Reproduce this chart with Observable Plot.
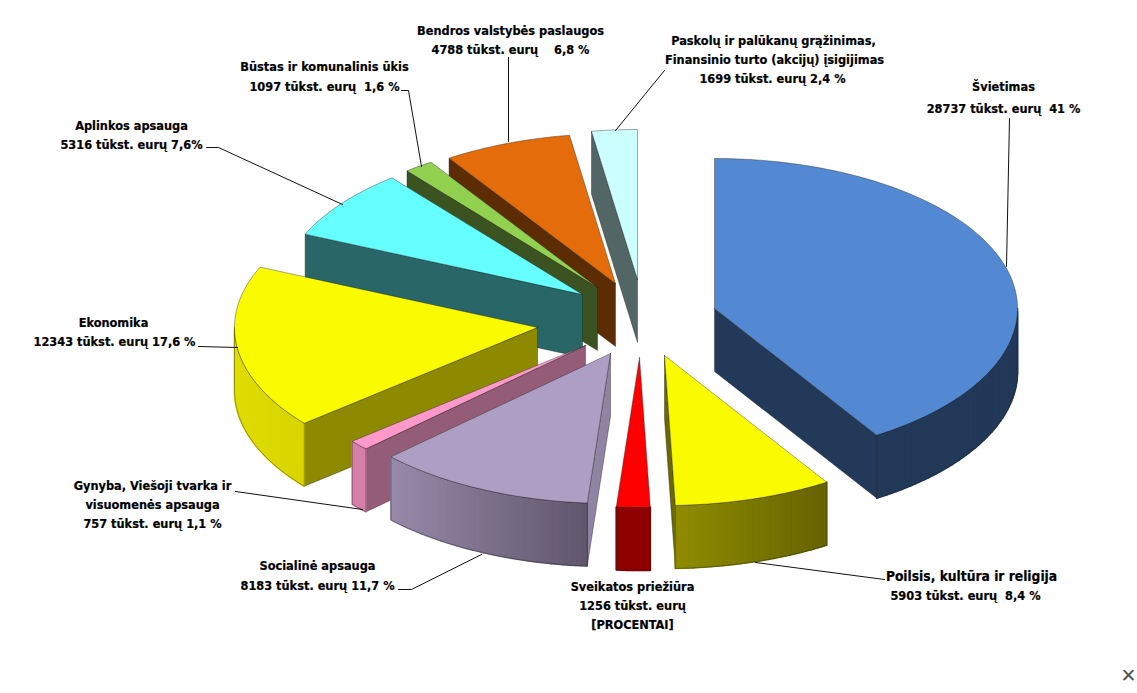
<!DOCTYPE html>
<html><head><meta charset="utf-8">
<script src="https://cdn.jsdelivr.net/npm/d3@7"></script>
<script src="https://cdn.jsdelivr.net/npm/@observablehq/plot@0.6"></script>
<style>html,body{margin:0;padding:0;background:#fff}svg{display:block}</style>
</head><body><div id="chart"></div>
<script>
// Data (thousand euros)
const categories = ["Švietimas","Poilsis, kultūra ir religija","Sveikatos priežiūra","Socialinė apsauga","Gynyba, Viešoji tvarka ir visuomenės apsauga","Ekonomika","Aplinkos apsauga","Būstas ir komunalinis ūkis","Bendros valstybės paslaugos","Paskolų ir palūkanų grąžinimas, Finansinio turto (akcijų) įsigijimas"];
const values = [28737,5903,1256,8183,757,12343,5316,1097,4788,1699];

// Styles
const topColors  = ["#5389d2","#fbfb00","#ff0000","#ad9ec3","#ff99cc","#fbfb00","#66ffff","#92d050","#e46c0a","#ccffff"];
const wallColors = ["#223959","#6b6900","#8e0000","#9084a3","#955c78","#8d8a00","#286668","#3b5320","#5c2c04","#526666"];
const rimLeft    = ["#223959","#8f8c00","#8e0000","#978aa9","#d67fa9","#dfdc00","#286668","#3b5320","#5c2c04","#526666"];
const rimRight   = ["#223959","#666300","#8e0000","#5f566c","#d67fa9","#d8d500","#286668","#3b5320","#5c2c04","#526666"];

// Pie layout: per-slice apex of each exploded slice
const rx = 303, ry = 150, depth = 63;
const apexX = [714,664,639,610,585,537,582,597,615,637];
const apexY = [308,355,357,353,345,327,294,287,283,279];
const drawOrder = [9,8,7,6,5,4,0,1,2,3];

// Label layout
const labels = [
  ["Švietimas",1003,86],["28737 tūkst. eurų  41 %",1003,108],
  ["Poilsis, kultūra ir religija",971,576,13.7],["5903 tūkst. eurų  8,4 %",965,595],
  ["Sveikatos priežiūra",632,586],["1256 tūkst. eurų",632,605],["[PROCENTAI]",632,624],
  ["Socialinė apsauga",317,565],["8183 tūkst. eurų 11,7 %",317,585],
  ["Gynyba, Viešoji tvarka ir",152,485],["visuomenės apsauga",152,504],["757 tūkst. eurų 1,1 %",152,523],
  ["Ekonomika",113,322],["12343 tūkst. eurų 17,6 %",114,341],
  ["Aplinkos apsauga",131,125],["5316 tūkst. eurų 7,6%",131,144],
  ["Būstas ir komunalinis ūkis",324,66],["1097 tūkst. eurų  1,6 %",324,86],
  ["Bendros valstybės paslaugos",510,30],["4788 tūkst. eurų    6,8 %",510,49],
  ["Paskolų ir palūkanų grąžinimas,",773,40],["Finansinio turto (akcijų) įsigijimas",774,59],["1699 tūkst. eurų 2,4 %",772,78]
];
const leaders = [
  [[1009,118],[1006,266]],
  [[755,562],[884,579]],
  [[398,589],[411,589],[481,554]],
  [[235,491],[362,509]],
  [[198,346],[237,347]],
  [[206,147],[218,147],[342,204]],
  [[401,90],[408,90],[421,166]],
  [[508,57],[508,141]],
  [[615,130],[664,70]]
];

// Geometry derived from the values
const total = d3.sum(values);
const cum = d3.cumsum(values);
const startA = values.map((v,i)=> (i? cum[i-1]:0)/total*2*Math.PI);
const endA = values.map((v,i)=> cum[i]/total*2*Math.PI);
const px = (i,a)=> apexX[i]+rx*Math.sin(a);
const py = (i,a)=> apexY[i]-ry*Math.cos(a);

const polys = [];
let pid = 0;
const edge = "rgba(30,30,30,0.65)";
const pushPoly = (pts,fill,stroke,sw=0.6)=>{const id=pid++; [...pts,pts[0]].forEach(([x,y])=>polys.push({id,x,y,fill,stroke,sw}));};

drawOrder.forEach(i=>{
  const a0=startA[i], a1=endA[i];
  const ax=apexX[i], ay=apexY[i];
  const wall = a=>{
    const x=px(i,a), y=py(i,a);
    pushPoly([[ax,ay],[x,y],[x,y+depth],[ax,ay+depth]],wallColors[i],edge);
  };
  if (Math.sin(a0)<0) wall(a0);
  if (Math.sin(a1)>0) wall(a1);
  // outer rim: only the front half faces the viewer
  const r0=Math.max(a0,Math.PI/2), r1=Math.min(a1,3*Math.PI/2);
  if (r1>r0){
    const n=Math.max(2,Math.ceil((r1-r0)/0.02));
    const angles=d3.range(n+1).map(k=>r0+(r1-r0)*k/n);
    const xs=angles.map(a=>px(i,a));
    const xmin=d3.min(xs), xmax=d3.max(xs);
    const col=d3.interpolateRgb(rimLeft[i],rimRight[i]);
    for(let k=0;k<n;k++){
      const b0=angles[k], b1=angles[k+1];
      const t=((px(i,b0)+px(i,b1))/2-xmin)/(xmax-xmin||1);
      const c=d3.color(col(t)).formatHex();
      pushPoly([[px(i,b0),py(i,b0)],[px(i,b1),py(i,b1)],[px(i,b1),py(i,b1)+depth],[px(i,b0),py(i,b0)+depth]],c,c,1.6);
    }
    // outline of the whole rim
    pushPoly([...angles.map(a=>[px(i,a),py(i,a)]),...angles.slice().reverse().map(a=>[px(i,a),py(i,a)+depth])],"none",edge);
  }
  const n=Math.max(4,Math.ceil((a1-a0)/0.02));
  const pts=[[ax,ay],...d3.range(n+1).map(k=>{const a=a0+(a1-a0)*k/n;return [px(i,a),py(i,a)];})];
  pushPoly(pts,topColors[i],edge);
});

const leaderRows = leaders.flatMap((l,id)=>l.map(([x,y])=>({id,x,y})));
const labelRows = labels.map(([text,x,y,size])=>({text:text.replace(/ /g,"\u00a0"),x,y,size:size||12.65}));

const chart = Plot.plot({
  width:1137,height:693,margin:0,
  x:{domain:[0,1137],range:[0,1137],axis:null},
  y:{domain:[0,693],range:[0,693],axis:null},
  style:{background:"#fff"},
  marks:[
    Plot.line(polys,{x:"x",y:"y",z:"id",fill:d=>d.fill,stroke:d=>d.stroke,strokeWidth:d=>d.sw,curve:"linear",strokeLinejoin:"round"}),
    Plot.line(leaderRows,{x:"x",y:"y",z:"id",stroke:"#111",strokeWidth:1,curve:"linear"}),
    ...labelRows.map(d=>Plot.text([d],{x:"x",y:"y",text:"text",fill:"#000",stroke:"#000",strokeWidth:0.2,fontFamily:"'DejaVu Sans Condensed','DejaVu Sans'",fontWeight:"bold",fontSize:d.size,textAnchor:"middle",lineAnchor:"middle"})),
    Plot.text([{t:"✕"}],{x:()=>1128,y:()=>675,text:"t",fill:"#555",fontFamily:"DejaVu Sans",fontWeight:"bold",fontSize:19,textAnchor:"middle",lineAnchor:"middle"})
  ]
});
document.getElementById("chart").append(chart);
</script></body></html>
